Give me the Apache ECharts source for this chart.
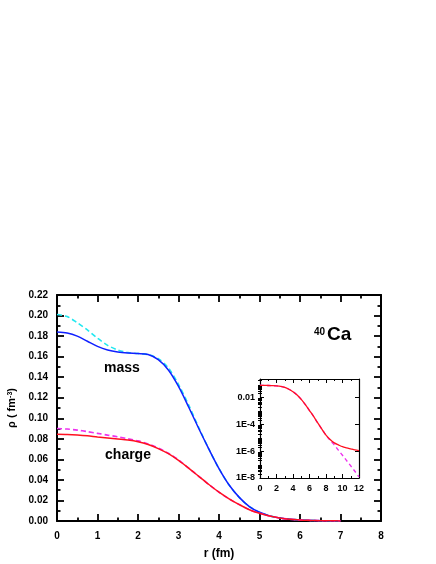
<!DOCTYPE html>
<html lang="en">
<head>
    <meta charset="UTF-8">
    <title>40Ca density</title>
    <script src="https://cdn.jsdelivr.net/npm/echarts@6.0.0/dist/echarts.min.js"></script>
    <style>body{margin:0;background:#fff;}</style>
</head>
<body>
    <div id="main" style="width: 436px;height:564px;"></div>
    <script type="text/javascript">
        // main panel: radius (fm) and densities (fm^-3)
        const rMain = [0, 0.25, 0.5, 0.75, 1, 1.25, 1.5, 1.75, 2, 2.25, 2.5, 2.75, 3, 3.25, 3.5, 3.75,
            4, 4.25, 4.5, 4.75, 5, 5.25, 5.5, 5.75, 6, 6.25, 6.5, 6.75, 7];
        const massSolid = [0.184, 0.183, 0.180, 0.175, 0.170, 0.1665, 0.1645, 0.1635, 0.163, 0.162, 0.157, 0.147,
            0.131, 0.111, 0.090, 0.070, 0.051, 0.035, 0.023, 0.014, 0.0085, 0.005, 0.003, 0.0017, 0.001,
            0.0006, 0.0003, 0.00015, 0.0001];
        const massDashed = [0.201, 0.199, 0.193, 0.186, 0.178, 0.171, 0.1665, 0.164, 0.163, 0.162, 0.158, 0.149,
            0.133, 0.113, 0.091, 0.070, 0.051, 0.035, 0.023, 0.014, 0.0085, 0.005, 0.003, 0.0017, 0.001,
            0.0006, 0.0003, 0.00015, 0.0001];
        const chargeSolid = [0.0845, 0.0843, 0.0838, 0.083, 0.0818, 0.0808, 0.0798, 0.0788, 0.0772, 0.0745,
            0.0705, 0.0655, 0.059, 0.0515, 0.0435, 0.0355, 0.028, 0.0215, 0.016, 0.011, 0.0075, 0.0048, 0.0029,
            0.0017, 0.001, 0.0006, 0.0003, 0.0002, 0.0001];
        const chargeDashed = [0.090, 0.0895, 0.0885, 0.087, 0.0853, 0.0836, 0.082, 0.080, 0.078, 0.075,
            0.071, 0.066, 0.0595, 0.0515, 0.0435, 0.0355, 0.028, 0.0215, 0.016, 0.011, 0.0075, 0.0048, 0.0029,
            0.0017, 0.001, 0.0006, 0.0003, 0.0002, 0.0001];

        // inset: charge density on log scale
        const rInset = [0, 0.5, 1, 1.5, 2, 2.5, 3, 3.5, 4, 4.5, 5, 5.5, 6, 6.5, 7, 7.5, 8, 8.5, 9, 9.5,
            10, 10.5, 11, 11.5, 12];
        const insetSolid = [0.085, 0.084, 0.082, 0.080, 0.077, 0.071, 0.059, 0.043, 0.028, 0.016, 0.0075,
            0.003, 1.1e-3, 4e-4, 1.3e-4, 4.5e-5, 1.6e-5, 7.5e-6, 4.2e-6, 3e-6, 2.2e-6, 1.8e-6, 1.5e-6,
            1.25e-6, 1.1e-6];
        const insetDashed = [0.085, 0.084, 0.082, 0.080, 0.077, 0.071, 0.059, 0.043, 0.028, 0.016, 0.0075,
            0.003, 1.1e-3, 4e-4, 1.3e-4, 4.5e-5, 1.6e-5, 6.5e-6, 3e-6, 1.2e-6, 5e-7, 2e-7, 8e-8,
            3.2e-8, 1.2e-8];
        const insetTickExp = [-8, -6, -4, -2];
        const insetTickLabels = ['1E-8', '1E-6', '1E-4', '0.01'];

        const FONT = '"Liberation Sans", Arial, sans-serif';
        const pairs = (xs, ys) => xs.map((x, i) => [x, ys[i]]);
        const logPairs = (xs, ys) => xs.map((x, i) => [x, Math.log10(ys[i])]);

        // log sub-ticks (2..9 in each decade) for the inset
        const logMinor = [];
        for (let n = -8; n < 0; n++) {
            for (let k = 2; k <= 9; k++) {
                const v = n + Math.log10(k);
                if (v <= -0.6) logMinor.push(v);
            }
        }

        const myChart = echarts.init(document.getElementById('main'));

        const mainLabel = { fontFamily: FONT, fontWeight: 'bold', fontSize: 10, color: '#000' };
        const insetLabel = { fontFamily: FONT, fontWeight: 'bold', fontSize: 9, color: '#000' };
        const thick = { lineStyle: { color: '#000', width: 2 } };
        const thin = { lineStyle: { color: '#000', width: 1.2 } };

        function mainX(pos, labels) {
            return {
                type: 'value', gridIndex: 0, position: pos, min: 0, max: 8, interval: 1,
                axisLine: { show: true, onZero: false, ...thick },
                axisTick: { inside: true, length: 7, lineStyle: { color: '#000', width: 1.8 } },
                minorTick: { show: true, splitNumber: 2, length: 3.5, lineStyle: { color: '#000', width: 1.8 } },
                splitLine: { show: false },
                axisLabel: { show: labels, margin: 10, ...mainLabel },
                name: labels ? 'r (fm)' : '', nameLocation: 'middle', nameGap: 27,
                nameTextStyle: { fontFamily: FONT, fontWeight: 'bold', fontSize: 12, color: '#000' }
            };
        }
        function mainY(pos, labels) {
            return {
                type: 'value', gridIndex: 0, position: pos, min: 0, max: 0.22, interval: 0.02,
                axisLine: { show: true, onZero: false, ...thick },
                axisTick: { inside: true, length: 7, lineStyle: { color: '#000', width: 1.8 } },
                minorTick: { show: true, splitNumber: 2, length: 3.5, lineStyle: { color: '#000', width: 1.8 } },
                splitLine: { show: false },
                axisLabel: { show: labels, margin: 9, formatter: v => v.toFixed(2), ...mainLabel },
                name: labels ? '{a|ρ ( fm}{s|-3}{a|)}' : '', nameLocation: 'middle', nameGap: 38, nameRotate: 90,
                nameTextStyle: {
                    rich: {
                        a: { fontFamily: FONT, fontWeight: 'bold', fontSize: 11, color: '#000' },
                        s: { fontFamily: FONT, fontWeight: 'bold', fontSize: 7, color: '#000',
                             verticalAlign: 'top', padding: [0, 0, 5, 0] }
                    }
                }
            };
        }
        function insetX(pos, labels) {
            return {
                type: 'value', gridIndex: 1, position: pos, min: 0, max: 12, interval: 2,
                axisLine: { show: true, onZero: false, ...thin },
                axisTick: { inside: true, length: 4, lineStyle: { color: '#000', width: 1 } },
                minorTick: { show: true, splitNumber: 2, length: 2, lineStyle: { color: '#000', width: 1 } },
                splitLine: { show: false },
                axisLabel: { show: labels, margin: 6, ...insetLabel }
            };
        }
        function insetY(pos, labels) {
            return {
                type: 'value', gridIndex: 1, position: pos, min: -8, max: -0.6, interval: 2,
                axisLine: { show: true, onZero: false, ...thin },
                axisTick: { inside: true, length: 4, lineStyle: { color: '#000', width: 1 } },
                minorTick: { show: false },
                splitLine: { show: false },
                axisLabel: {
                    show: labels, margin: 5, showMaxLabel: false, ...insetLabel,
                    formatter: v => {
                        const i = insetTickExp.indexOf(Math.round(v * 1000) / 1000);
                        return i >= 0 ? insetTickLabels[i] : '';
                    }
                }
            };
        }
        function insetYMinor(pos) {
            return {
                type: 'value', gridIndex: 1, position: pos, min: -8, max: -0.6,
                axisLine: { show: false },
                axisTick: { show: true, inside: true, length: 2, customValues: logMinor,
                            lineStyle: { color: '#000', width: 1 } },
                axisLabel: { show: false },
                splitLine: { show: false }
            };
        }

        const option = {
            animation: false,
            backgroundColor: '#fff',
            grid: [
                { left: 57, top: 295, width: 324, height: 226, containLabel: false, outerBoundsMode: 'none' },
                { left: 260, top: 379, width: 99, height: 99, containLabel: false, outerBoundsMode: 'none' }
            ],
            xAxis: [mainX('bottom', true), mainX('top', false), insetX('bottom', true), insetX('top', false)],
            yAxis: [mainY('left', true), mainY('right', false), insetY('left', true), insetY('right', false),
                    insetYMinor('left'), insetYMinor('right')],
            series: [
                { type: 'line', xAxisIndex: 0, yAxisIndex: 0, data: pairs(rMain, massDashed), smooth: 0.3,
                  showSymbol: false, lineStyle: { color: '#22e8f0', width: 1.6, type: [5, 3] } },
                { type: 'line', xAxisIndex: 0, yAxisIndex: 0, data: pairs(rMain, massSolid), smooth: 0.3,
                  showSymbol: false, lineStyle: { color: '#1020ff', width: 1.5 } },
                { type: 'line', xAxisIndex: 0, yAxisIndex: 0, data: pairs(rMain, chargeDashed), smooth: 0.3,
                  showSymbol: false, lineStyle: { color: '#ee30ee', width: 1.6, type: [5, 3] } },
                { type: 'line', xAxisIndex: 0, yAxisIndex: 0, data: pairs(rMain, chargeSolid), smooth: 0.3,
                  showSymbol: false, lineStyle: { color: '#ff1020', width: 1.5 } },
                { type: 'line', xAxisIndex: 2, yAxisIndex: 2, data: logPairs(rInset, insetDashed), smooth: 0.3,
                  showSymbol: false, lineStyle: { color: '#ee30ee', width: 1.4, type: [4, 3] } },
                { type: 'line', xAxisIndex: 2, yAxisIndex: 2, data: logPairs(rInset, insetSolid), smooth: 0.3,
                  showSymbol: false, lineStyle: { color: '#ff1020', width: 1.3 } }
            ],
            graphic: [
                { type: 'text', x: 122, y: 368, style: { text: 'mass', font: 'bold 14px ' + FONT, fill: '#000',
                  align: 'center', verticalAlign: 'middle' } },
                { type: 'text', x: 128, y: 455, style: { text: 'charge', font: 'bold 14px ' + FONT, fill: '#000',
                  align: 'center', verticalAlign: 'middle' } },
                { type: 'text', x: 314, y: 332, style: { text: '40', font: 'bold 10px ' + FONT, fill: '#000',
                  align: 'left', verticalAlign: 'middle' } },
                { type: 'text', x: 327, y: 335, style: { text: 'Ca', font: 'bold 19px ' + FONT, fill: '#000',
                  align: 'left', verticalAlign: 'middle' } }
            ]
        };

        myChart.setOption(option);
    </script>
</body>
</html>
